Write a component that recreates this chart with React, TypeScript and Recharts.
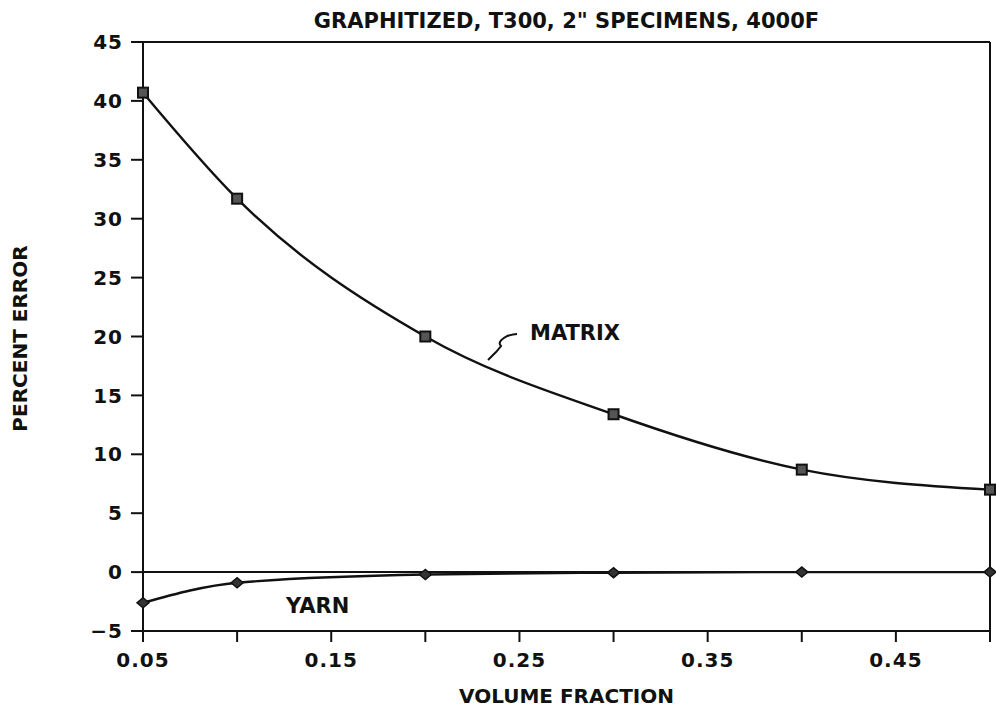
import React from 'react';
import { LineChart, Line, XAxis, YAxis, ReferenceLine, ReferenceDot, Label } from 'recharts';

const VOLUME_FRACTION = [0.05, 0.1, 0.2, 0.3, 0.4, 0.5];
const MATRIX = [40.7, 31.7, 20.0, 13.4, 8.7, 7.0];
const YARN = [-2.6, -0.9, -0.2, -0.05, 0.0, 0.0];
const X_TICKS = [0.05, 0.1, 0.15, 0.2, 0.25, 0.3, 0.35, 0.4, 0.45, 0.5];
const X_LABELED = ['0.05', '0.15', '0.25', '0.35', '0.45'];
const Y_TICKS = [-5, 0, 5, 10, 15, 20, 25, 30, 35, 40, 45];
const TITLE = 'GRAPHITIZED, T300, 2" SPECIMENS, 4000F';
const X_TITLE = 'VOLUME FRACTION';
const Y_TITLE = 'PERCENT ERROR';

const data = VOLUME_FRACTION.map((v, i) => ({ vf: v, matrix: MATRIX[i], yarn: YARN[i] }));

const FONT = '"DejaVu Sans", sans-serif';
const tickStyle = { fill: '#111', fontSize: 20, fontWeight: 700, fontFamily: FONT, letterSpacing: 1 };

const SquareDot = (props: any) => {
  const { cx, cy } = props;
  if (cx == null || cy == null) return null;
  return <rect x={cx - 5} y={cy - 5} width={10} height={10} fill="#555" stroke="#111" strokeWidth={2} />;
};

const DiamondDot = (props: any) => {
  const { cx, cy } = props;
  if (cx == null || cy == null) return null;
  return (
    <polygon
      points={`${cx - 6},${cy} ${cx},${cy - 5} ${cx + 6},${cy} ${cx},${cy + 5}`}
      fill="#333"
      stroke="#111"
      strokeWidth={1.5}
    />
  );
};

const MatrixNote = (props: any) => {
  const { cx, cy } = props;
  if (cx == null || cy == null) return null;
  return (
    <g>
      <path
        d={`M${cx},${cy} l8,-8 l5,-6 c-4,-4 2,-8 6,-10 c3,-1 6,-2 10,-2`}
        fill="none"
        stroke="#111"
        strokeWidth={2}
      />
      <text x={cx + 42} y={cy - 20} fontSize={21} fontWeight={700} fontFamily={FONT} fill="#111">
        MATRIX
      </text>
    </g>
  );
};

const YarnNote = (props: any) => {
  const { cx, cy } = props;
  if (cx == null || cy == null) return null;
  return (
    <text x={cx} y={cy + 8} fontSize={21} fontWeight={700} fontFamily={FONT} fill="#111">
      YARN
    </text>
  );
};

const YLabel = (props: any) => {
  const vb = props.viewBox || {};
  const cx = (vb.x ?? 0) + 20;
  const cy = (vb.y ?? 0) + (vb.height ?? 0) / 2 + 2;
  return (
    <text
      x={cx}
      y={cy}
      transform={`rotate(-90, ${cx}, ${cy})`}
      textAnchor="middle"
      dominantBaseline="central"
      fontSize={20}
      fontWeight={700}
      fontFamily={FONT}
      fill="#111"
    >
      {Y_TITLE}
    </text>
  );
};

export default function App() {
  return (
    <div style={{ position: 'absolute', left: 0, top: 0, width: 996, height: 711, background: '#fff' }}>
      <LineChart width={996} height={711} data={data} margin={{ top: 42, right: 6, bottom: 0, left: 0 }}>
        <XAxis
          dataKey="vf"
          type="number"
          domain={[0.05, 0.5]}
          ticks={X_TICKS}
          interval={0}
          tickFormatter={(v: number) => (X_LABELED.includes(v.toFixed(2)) ? v.toFixed(2) : '')}
          height={80}
          tickSize={11}
          tickMargin={11}
          axisLine={{ stroke: '#111', strokeWidth: 2 }}
          tickLine={{ stroke: '#111', strokeWidth: 2 }}
          tick={tickStyle}
        >
          <Label
            value={X_TITLE}
            position="insideBottom"
            offset={8}
            style={{ fill: '#111', fontSize: 20, fontWeight: 700, fontFamily: FONT }}
          />
        </XAxis>
        <YAxis
          type="number"
          domain={[-5, 45]}
          ticks={Y_TICKS}
          interval={0}
          width={143}
          tickSize={12}
          tickMargin={8}
          tickFormatter={(v: number) => (v < 0 ? '\u2212' + Math.abs(v) : String(v))}
          axisLine={{ stroke: '#111', strokeWidth: 2 }}
          tickLine={{ stroke: '#111', strokeWidth: 2 }}
          tick={tickStyle}
        >
          <Label content={<YLabel />} position="insideLeft" />
        </YAxis>
        <ReferenceLine
          y={45}
          stroke="#111"
          strokeWidth={2}
          label={{ value: TITLE, position: 'top', offset: 14, style: { fill: '#111', fontSize: 21, fontWeight: 700, fontFamily: FONT } }}
        />
        <ReferenceLine x={0.5} stroke="#111" strokeWidth={2} />
        <ReferenceLine y={0} stroke="#111" strokeWidth={2} />
        <Line
          type="monotone"
          dataKey="matrix"
          stroke="#111"
          strokeWidth={2.4}
          dot={<SquareDot />}
          isAnimationActive={false}
        />
        <Line
          type="monotone"
          dataKey="yarn"
          stroke="#111"
          strokeWidth={2.4}
          dot={<DiamondDot />}
          isAnimationActive={false}
        />
        <ReferenceDot x={0.2333} y={18.0} r={0} shape={<MatrixNote />} />
        <ReferenceDot x={0.126} y={-2.8} r={0} shape={<YarnNote />} />
      </LineChart>
    </div>
  );
}
